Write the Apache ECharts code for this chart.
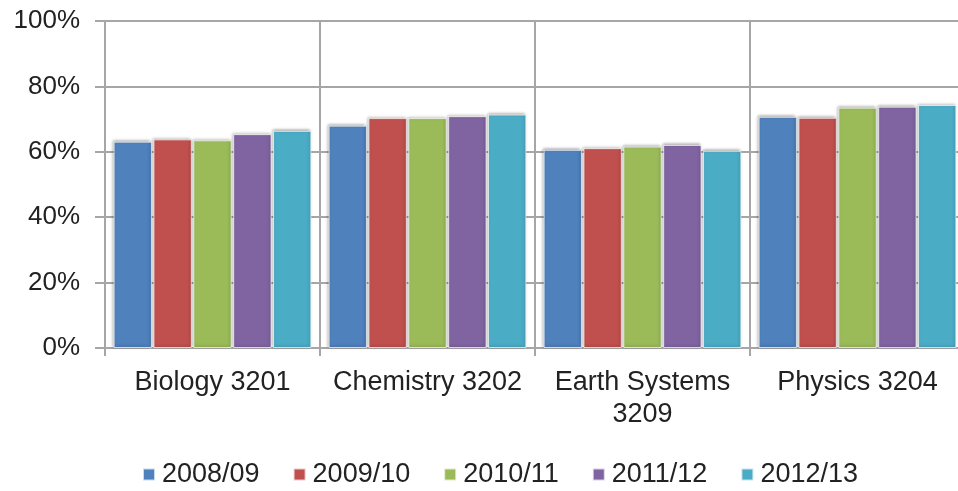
<!DOCTYPE html>
<html><head><meta charset="utf-8">
<script src="https://cdn.jsdelivr.net/npm/echarts@6/dist/echarts.min.js"></script>
<style>html,body{margin:0;padding:0;background:#fff;overflow:hidden}#c{width:966px;height:491px}</style>
</head><body><div id="c"></div>
<script>
const categories = ['Biology 3201', 'Chemistry 3202', 'Earth Systems\n3209', 'Physics 3204'];
const seriesNames = ['2008/09', '2009/10', '2010/11', '2011/12', '2012/13'];
const s2008 = [63.1, 68.0, 60.6, 70.7];
const s2009 = [63.8, 70.3, 61.1, 70.4];
const s2010 = [63.5, 70.3, 61.6, 73.5];
const s2011 = [65.4, 70.9, 62.1, 73.8];
const s2012 = [66.4, 71.4, 60.3, 74.3];
const yTicks = [0, 20, 40, 60, 80, 100];
const colors = ['#4F81BD', '#C0504D', '#9BBB59', '#8064A2', '#4BACC6'];

const values = [s2008, s2009, s2010, s2011, s2012];
const chart = echarts.init(document.getElementById('c'));
const font = 'Liberation Sans, Arial, sans-serif';
chart.setOption({
  animation: false,
  color: colors,
  grid: { left: 105, right: 1, top: 21, bottom: 143 },
  legend: {
    top: 456, left: 137, itemWidth: 12, itemHeight: 12, itemGap: 33,
    icon: 'rect',
    textStyle: { fontFamily: font, fontSize: 27, color: '#222', padding: [0, 0, 0, 2] },
    data: seriesNames
  },
  xAxis: {
    type: 'category', data: categories,
    axisLine: { lineStyle: { color: '#a6a6a6', width: 2 } },
    axisTick: { show: true, interval: 0, length: 8, lineStyle: { color: '#a6a6a6', width: 2 } },
    splitLine: { show: true, interval: 0, lineStyle: { color: '#a6a6a6', width: 2 } },
    axisLabel: { interval: 0, fontFamily: font, fontSize: 27, color: '#222', margin: 19, lineHeight: 32 }
  },
  yAxis: {
    type: 'value', min: 0, max: 100, interval: 20,
    axisLine: { show: true, lineStyle: { color: '#a6a6a6', width: 2 } },
    axisTick: { show: true, length: 10, lineStyle: { color: '#a6a6a6', width: 2 } },
    splitLine: { show: true, lineStyle: { color: '#a6a6a6', width: 2 } },
    axisLabel: { fontFamily: font, fontSize: 26, color: '#222', margin: 25,
      formatter: v => yTicks.includes(v) ? v + '%' : '' }
  },
  series: seriesNames.map((n, i) => ({
    name: n, type: 'bar', data: values[i],
    barGap: '4%', barCategoryGap: '8%',
    itemStyle: { borderColor: 'rgba(255,255,255,0.7)', borderWidth: 1,
      shadowColor: 'rgba(0,0,0,0.35)', shadowBlur: 3, shadowOffsetX: -1, shadowOffsetY: -1 }
  }))
});
</script></body></html>
